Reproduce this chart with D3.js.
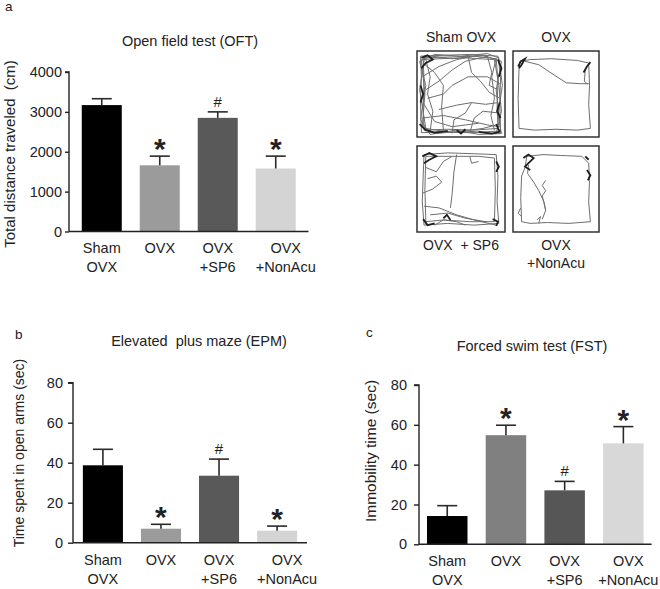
<!DOCTYPE html>
<html><head><meta charset="utf-8">
<script src="https://cdn.jsdelivr.net/npm/d3@7"></script>
<style>
body{margin:0;background:#fff;}
text{font-family:"Liberation Sans",Arial,sans-serif;fill:#222;}
</style></head>
<body><svg id="c" width="660" height="589"></svg>
<script>
// ---------- data ----------
const groups = ["Sham OVX", "OVX", "OVX +SP6", "OVX +NonAcu"];
const groupLines = [["Sham", "OVX"], ["OVX"], ["OVX", "+SP6"], ["OVX", "+NonAcu"]];
const oftMean = [3170, 1660, 2850, 1580];
const oftErr  = [160, 230, 150, 310];
const oftMarks = ["", "*", "#", "*"];
const oftTicks = [0, 1000, 2000, 3000, 4000];

const epmMean = [38.7, 7.0, 33.5, 6.0];
const epmErr  = [8.0, 2.2, 8.3, 2.3];
const epmMarks = ["", "*", "#", "*"];
const epmTicks = [0, 20, 40, 60, 80];

const fstMean = [14.2, 54.8, 27.1, 50.7];
const fstErr  = [5.2, 5.0, 4.5, 8.4];
const fstMarks = ["", "*", "#", "*"];
const fstTicks = [0, 20, 40, 60, 80];

const colorsAB = ["#000000", "#9b9b9b", "#595959", "#d4d4d4"];
const colorsC  = ["#000000", "#808080", "#565656", "#d8d8d8"];

// track drawings (0-100 arena units)
const trackSham = [
  [[4,6],[30,5],[60,4],[92,6],[95,30],[94,60],[95,93],[60,95],[30,94],[5,95],[4,60],[5,30],[4,6]],
  [[7,8],[35,7],[65,6],[90,9],[92,35],[91,65],[92,90],[65,92],[35,91],[8,92],[7,65],[8,35],[7,8]],
  [[5,10],[25,9],[55,8],[88,10],[93,40],[96,70],[90,96],[55,93],[20,96],[6,88],[9,50],[5,10]],
  [[9,5],[40,9],[75,5],[96,12],[90,45],[94,85],[75,90],[40,95],[10,90],[3,45],[9,5]],
  [[3,12],[20,4],[50,6],[80,3],[93,8],[97,40],[92,75],[96,96],[70,97],[45,92],[15,97],[4,80],[10,40],[3,12]],
  [[6,30],[25,18],[45,10],[70,5]],
  [[10,45],[25,35],[40,22],[55,12],[80,6]],
  [[8,15],[20,25],[30,40],[28,65],[30,92]],
  [[25,68],[45,63],[62,60],[78,62],[92,60]],
  [[6,78],[30,75],[55,80],[80,86],[94,88]],
  [[58,6],[62,25],[72,35],[82,48],[94,55]],
  [[12,55],[30,50],[40,40],[58,30],[80,30],[94,38]],
  [[60,95],[65,78],[75,70],[92,72]],
  [[8,62],[20,82],[40,88],[70,84]],
  [[40,95],[42,80],[55,72],[62,60]],
  [[80,6],[85,25],[82,40],[92,45]],
  [[15,93],[18,70],[12,50],[15,30],[10,10]],
  [[88,92],[84,75],[88,55],[85,30],[90,8]]
];
const trackShamDark = [
  [[3,85],[10,92],[20,95],[35,93]],
  [[90,85],[94,94],[85,96],[70,94]],
  [[5,8],[12,5],[18,10],[10,14],[5,20]],
  [[92,10],[96,20],[93,30]],
  [[94,60],[91,70],[95,78]],
  [[4,40],[7,50],[4,60]],
  [[45,92],[50,96],[55,91]]
];
const trackOvx = [
  [[8,12],[20,10],[45,9],[75,11],[88,14],[89,40],[88,62],[90,90],[75,92],[50,91],[25,92],[7,90],[6,55],[7,20],[8,12]],
  [[14,12],[30,16],[48,28],[62,37],[78,38],[88,38]],
  [[84,22],[83,35],[87,39]]
];
const trackOvxDark = [
  [[6,18],[9,12],[14,9],[10,16],[7,20]],
  [[82,25],[86,18],[90,13]]
];
const trackSp6 = [
  [[8,10],[35,8],[65,9],[90,10],[92,35],[91,65],[93,90],[65,92],[35,90],[8,92],[6,65],[7,35],[8,10]],
  [[10,12],[40,12],[70,12],[88,14],[89,50],[88,88],[60,88],[30,86],[10,88],[9,50],[10,12]],
  [[45,10],[42,30],[40,55],[38,72]],
  [[8,70],[25,72],[45,80],[65,86],[90,92]],
  [[6,55],[18,50],[28,42],[22,35],[12,38]],
  [[15,80],[35,78],[55,84],[78,88]],
  [[10,25],[22,30],[30,18],[40,12]],
  [[60,12],[62,20],[70,18]],
  [[20,92],[30,86],[45,88],[55,92]]
];
const trackSp6Dark = [
  [[6,12],[14,8],[22,12],[14,16],[8,20]],
  [[7,85],[12,92],[20,90]],
  [[86,85],[92,88],[90,93]],
  [[30,84],[34,80],[38,86]],
  [[90,18],[93,24],[90,30]]
];
const trackNon = [
  [[16,12],[35,10],[55,11],[80,12],[88,20],[89,40],[88,65],[90,88],[65,90],[40,89],[20,90],[10,88],[9,60],[10,35],[14,25],[16,12]],
  [[18,22],[17,32],[24,42],[30,52],[36,65],[38,75],[34,85]],
  [[38,75],[36,66],[34,58],[38,52],[34,46],[38,40]],
  [[9,72],[6,78],[10,82]],
  [[28,86],[32,82],[30,90]]
];
const trackNonDark = [
  [[12,14],[18,10],[24,14],[18,20],[14,24],[20,28]],
  [[86,28],[90,34],[87,40]],
  [[84,12],[88,16]]
];
const arenas = [
  {label: ["Sham OVX"], below: false, tracks: trackSham, dark: trackShamDark},
  {label: ["OVX"], below: false, tracks: trackOvx, dark: trackOvxDark},
  {label: ["OVX  + SP6"], below: true, tracks: trackSp6, dark: trackSp6Dark},
  {label: ["OVX", "+NonAcu"], below: true, tracks: trackNon, dark: trackNonDark}
];

// ---------- drawing ----------
const svg = d3.select("#c");

function barPanel(o) {
  const g = svg.append("g");
  const x = d3.scaleBand().domain(groups).range([o.x0, o.x1])
    .paddingInner(0.31).paddingOuter(o.pOuter);
  const y = d3.scaleLinear().domain([0, o.max]).range([o.y0, o.y1]);

  // bars
  g.selectAll("rect.bar").data(groups).join("rect")
    .attr("x", d => x(d)).attr("width", x.bandwidth())
    .attr("y", (d, i) => y(o.mean[i]))
    .attr("height", (d, i) => y(0) - y(o.mean[i]))
    .attr("fill", (d, i) => o.colors[i]);

  // error bars
  const eb = g.selectAll("g.eb").data(groups).join("g")
    .attr("stroke", "#2a2a2a").attr("stroke-width", 1.6);
  eb.append("line")
    .attr("x1", d => x(d) + x.bandwidth() / 2).attr("x2", d => x(d) + x.bandwidth() / 2)
    .attr("y1", (d, i) => y(o.mean[i])).attr("y2", (d, i) => y(o.mean[i] + o.err[i]));
  eb.append("line")
    .attr("x1", d => x(d) + x.bandwidth() / 2 - 10).attr("x2", d => x(d) + x.bandwidth() / 2 + 10)
    .attr("y1", (d, i) => y(o.mean[i] + o.err[i])).attr("y2", (d, i) => y(o.mean[i] + o.err[i]));

  // significance marks
  g.selectAll("text.mark").data(groups).join("text")
    .attr("text-anchor", "middle")
    .attr("x", d => x(d) + x.bandwidth() / 2)
    .attr("y", (d, i) => y(o.mean[i] + o.err[i]) + (o.marks[i] === "*" ? 3 : -5))
    .attr("font-size", (d, i) => o.marks[i] === "*" ? 30 : 15)
    .attr("font-weight", (d, i) => o.marks[i] === "*" ? "bold" : "normal")
    .attr("fill", "#222")
    .text((d, i) => o.marks[i]);

  // y axis
  const ya = g.append("g").attr("transform", `translate(${o.x0},0)`)
    .call(d3.axisLeft(y).tickValues(o.ticks).tickFormat(d3.format("d"))
      .tickSize(o.tickSize).tickPadding(o.tickPad));
  ya.selectAll("text").attr("font-size", 14.5).attr("fill", "#222")
    .style("font-family", '"Liberation Sans",Arial,sans-serif');
  ya.selectAll("line,path").attr("stroke", "#222").attr("stroke-width", 1.4);
  ya.select("path.domain").attr("d", `M${-o.tickSize},${o.y1}H0V${o.y0}`);

  // x axis (no ticks)
  const xa = g.append("g").attr("transform", `translate(0,${o.y0})`)
    .call(d3.axisBottom(x).tickSize(0).tickFormat(""));
  xa.select("path.domain").attr("d", `M${o.x0},0H${o.x1}`)
    .attr("stroke", "#222").attr("stroke-width", 1.4);

  // category labels
  const lab = g.selectAll("text.cat").data(groups).join("text")
    .attr("text-anchor", "middle").attr("font-size", 14.5).attr("fill", "#222")
    .attr("transform", (d, i) => `translate(${x(d) + x.bandwidth() / 2 + (i === 3 ? o.lastShift : 0)},${o.labY})`);
  lab.selectAll("tspan").data((d, i) => groupLines[i]).join("tspan")
    .attr("x", 0).attr("y", (d, j) => j * 19).text(d => d);

  // title
  g.append("text").attr("x", o.titleX).attr("y", o.titleY).attr("text-anchor", "middle")
    .attr("font-size", 14.5).attr("fill", "#222").attr("xml:space", "preserve").text(o.title);
  // y label
  g.append("text").attr("transform", `translate(${o.ylabX},${o.ylabY}) rotate(-90)`)
    .attr("text-anchor", "middle").attr("font-size", o.ylabSize).attr("fill", "#222")
    .attr("xml:space", "preserve").text(o.ylab);
  // panel letter
  g.append("text").attr("x", o.letterX).attr("y", o.letterY).attr("font-size", 13.5)
    .attr("fill", "#222").text(o.letter);
}

barPanel({mean: oftMean, err: oftErr, marks: oftMarks, ticks: oftTicks, max: 4000,
  colors: colorsAB, x0: 69, x1: 308.5, pOuter: 0.22, y0: 231.5, y1: 72,
  tickSize: 4, tickPad: 3, labY: 253, lastShift: 10,
  title: "Open field test (OFT)", titleX: 190, titleY: 46,
  ylab: "Total distance traveled  (cm)", ylabX: 15, ylabY: 154, ylabSize: 15,
  letter: "a", letterX: 5, letterY: 11});

barPanel({mean: epmMean, err: epmErr, marks: epmMarks, ticks: epmTicks, max: 80,
  colors: colorsAB, x0: 73, x1: 307, pOuter: 0.17, y0: 542.7, y1: 382.7,
  tickSize: 5, tickPad: 5, labY: 565, lastShift: 10,
  title: "Elevated  plus maze (EPM)", titleX: 199, titleY: 346,
  ylab: "Time spent in open arms (sec)", ylabX: 24, ylabY: 453, ylabSize: 14,
  letter: "b", letterX: 15, letterY: 339});

barPanel({mean: fstMean, err: fstErr, marks: fstMarks, ticks: fstTicks, max: 80,
  colors: colorsC, x0: 419, x1: 651.6, pOuter: 0.136, y0: 544.3, y1: 385,
  tickSize: 5, tickPad: 7, labY: 566, lastShift: 5,
  title: "Forced swim test (FST)", titleX: 532, titleY: 351,
  ylab: "Immobility time (sec)", ylabX: 376, ylabY: 451, ylabSize: 15.5,
  letter: "c", letterX: 366, letterY: 337});

// ---------- arenas ----------
const boxX = [[417, 505], [513, 599], [417, 505], [513, 599]];
const boxY = [[51, 137], [51, 137], [146, 232], [146, 232]];
const line = d3.line().curve(d3.curveLinear);
arenas.forEach((a, k) => {
  const sx = d3.scaleLinear().domain([0, 100]).range(boxX[k]);
  const sy = d3.scaleLinear().domain([0, 100]).range(boxY[k]);
  const g = svg.append("g");
  line.x(p => sx(p[0])).y(p => sy(p[1]));
  g.selectAll("path.t").data(a.tracks).join("path").attr("d", line)
    .attr("fill", "none").attr("stroke", "#6e6e6e").attr("stroke-width", 1);
  g.selectAll("path.d").data(a.dark).join("path").attr("d", line)
    .attr("fill", "none").attr("stroke", "#1e1e1e").attr("stroke-width", 1.8);
  g.append("rect").attr("x", sx(0)).attr("y", sy(0))
    .attr("width", sx(100) - sx(0)).attr("height", sy(100) - sy(0))
    .attr("fill", "none").attr("stroke", "#333").attr("stroke-width", 1.5);
  const cx = (sx(0) + sx(100)) / 2;
  const t = g.append("text").attr("text-anchor", "middle").attr("font-size", 14)
    .attr("fill", "#222").attr("xml:space", "preserve");
  t.selectAll("tspan").data(a.label).join("tspan")
    .attr("x", cx)
    .attr("y", (d, j) => a.below ? sy(100) + 18 + j * 18 : sy(0) - 9)
    .text(d => d);
});
</script></body></html>
